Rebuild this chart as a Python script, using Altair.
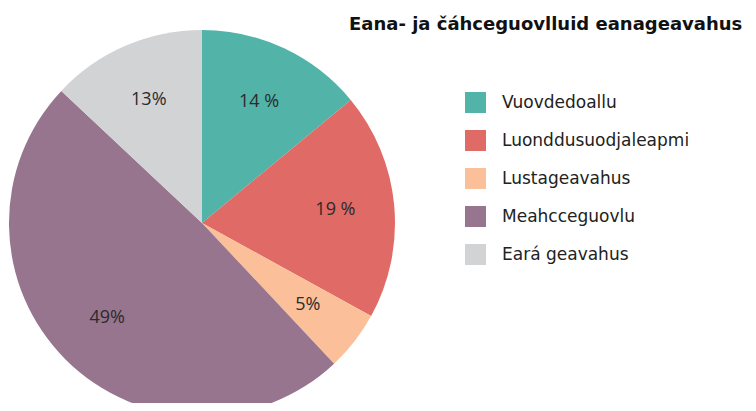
import altair as alt
import pandas as pd

categories = ["Vuovdedoallu", "Luonddusuodjaleapmi", "Lustageavahus", "Meahcceguovlu", "Eará geavahus"]
values = [14, 19, 5, 49, 13]
labels = ["14 %", "19 %", "5%", "49%", "13%"]
colors = ["#52b3a8", "#e06a65", "#fbc09a", "#98758e", "#d2d3d5"]
title_text = "Eana- ja čáhceguovlluid eanageavahus"

df = pd.DataFrame({
    "cat": categories,
    "value": values,
    "label": labels,
    "order": list(range(len(categories))),
})

cx, cy, R = 194, 215, 193

base = alt.Chart(df).encode(
    theta=alt.Theta("value:Q", stack=True),
    order=alt.Order("order:Q"),
    x=alt.value(cx),
    y=alt.value(cy),
)

arcs = base.mark_arc(outerRadius=R, stroke=None).encode(
    color=alt.Color(
        "cat:N",
        scale=alt.Scale(domain=categories, range=colors),
        sort=categories,
        legend=alt.Legend(
            title=None,
            orient="none",
            legendX=457,
            legendY=84,
            symbolType="square",
            symbolSize=441,
            symbolStrokeWidth=0,
            rowPadding=17,
            labelOffset=16,
            labelFont="DejaVu Sans",
            labelFontSize=17,
            labelColor="#222222",
            labelLimit=400,
            padding=0,
        ),
    )
)

texts = base.mark_text(radius=134, font="Open Sans", fontSize=18, color="#2b2b2b").encode(
    text="label:N"
)

title = alt.Chart(pd.DataFrame({"t": [title_text]})).mark_text(
    align="left", baseline="alphabetic", font="DejaVu Sans", fontWeight="bold",
    fontSize=18, color="#111111"
).encode(text="t:N", x=alt.value(341), y=alt.value(22))

chart = alt.layer(arcs, texts, title).properties(
    width=740, height=395, padding=0, autosize=alt.AutoSizeParams(type="none")
).configure_view(stroke=None)

chart.save("out.html", embed_options={"renderer": "svg", "actions": False})
